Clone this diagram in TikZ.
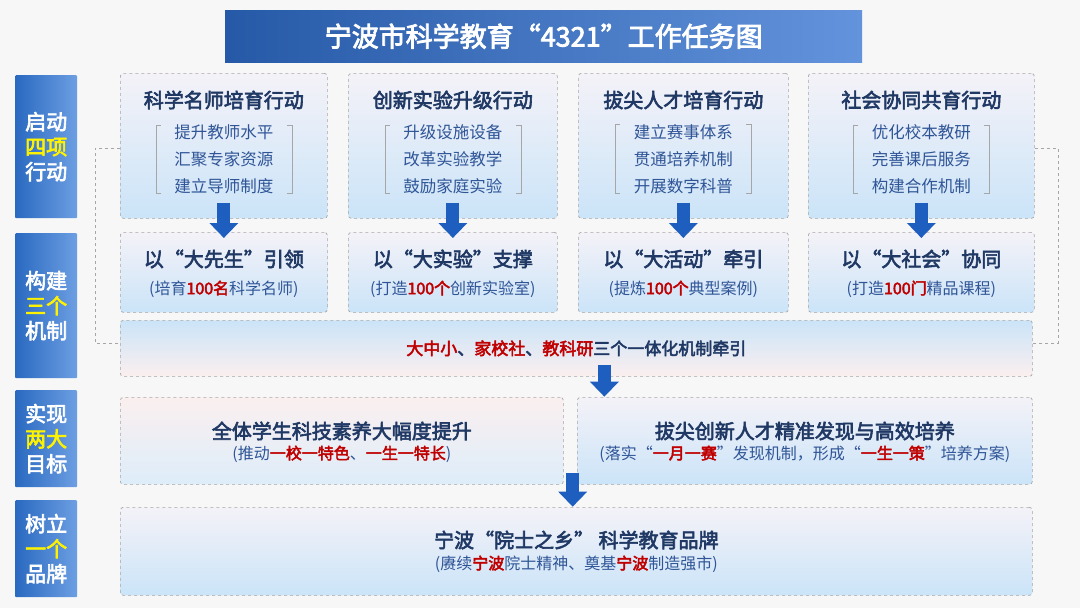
\documentclass[tikz,border=0pt]{standalone}
\usepackage{fontspec}
\setmainfont{Noto Sans CJK SC}
\newfontfamily\cjkb{Noto Sans CJK SC}[FakeBold=3]
\usetikzlibrary{arrows.meta,calc}
\definecolor{navy}{HTML}{1F3864}
\definecolor{subc}{HTML}{2F5597}
\definecolor{redc}{HTML}{C00000}
\definecolor{lblue}{HTML}{2E75D6}
\definecolor{tblue}{HTML}{2F6FD0}
\definecolor{bxa}{HTML}{F4F2F8}
\definecolor{bxb}{HTML}{CBE4F8}
\definecolor{pxa}{HTML}{FBEFEF}
\definecolor{pxb}{HTML}{DDEDFA}
\definecolor{arc}{HTML}{1E5EBF}
\tikzset{
 box/.style={draw=gray!70,dashed,line width=0.7pt,rounded corners=3pt,top color=bxa,bottom color=bxb,anchor=north west,inner sep=0pt},
 pbox/.style={box,top color=pxa,bottom color=pxb},
 lab/.style={rounded corners=1pt,anchor=north west,inner sep=0pt,left color=lblue!90!black,right color=lblue!70!white,text=white,align=center,font=\cjkb\fontsize{21}{25}\selectfont},
 bigarrow/.style={-{Triangle[width=28pt,length=15pt]},line width=13pt,color=arc},
 br/.style={draw=gray!70,line width=0.6pt},
 t1/.style={font=\cjkb\fontsize{20}{24}\selectfont,text=navy},
 t2/.style={font=\fontsize{16.5}{27}\selectfont,text=subc,align=center},
}
\newcommand{\R}[1]{\textcolor{redc}{\cjkb #1}}
\begin{document}
\begin{tikzpicture}[x=1pt,y=-1pt]
\useasboundingbox (0,0) rectangle (1080,608);
\fill[gray!6] (0,0) rectangle (1080,608);
% dashed brackets
\draw[dashed,gray!70,line width=0.7pt] (120,148) -- (95,148) -- (95,343) -- (120,343);
\draw[dashed,gray!70,line width=0.7pt] (1035,148) -- (1058,148) -- (1058,343) -- (1032,343);
% title
\node[anchor=north west,minimum width=637pt,minimum height=52pt,inner sep=0pt,left color=tblue!80!black,right color=tblue!75!white,text=white,font=\cjkb\fontsize{27}{30}\selectfont] (title) at (225,10) {宁波市科学教育“4321”工作任务图};
% left labels
\node[lab,minimum width=62pt,minimum height=143pt] (L1) at (15,75) {启动\\\textcolor{yellow}{四项}\\行动};
\node[lab,minimum width=62pt,minimum height=145pt] (L2) at (15,233) {构建\\\textcolor{yellow}{三个}\\机制};
\node[lab,minimum width=62pt,minimum height=97pt] (L3) at (15,390) {实现\\\textcolor{yellow}{两大}\\目标};
\node[lab,minimum width=62pt,minimum height=97pt] (L4) at (15,500) {树立\\\textcolor{yellow}{一个}\\品牌};
% action boxes
\foreach \n/\x/\w/\t/\a/\b/\c in {1/120/207/科学名师培育行动/提升教师水平/汇聚专家资源/建立导师制度,
 2/348/209/创新实验升级行动/升级设施设备/改革实验教学/鼓励家庭实验,
 3/578/210/拔尖人才培育行动/建立赛事体系/贯通培养机制/开展数字科普,
 4/808/226/社会协同共育行动/优化校本教研/完善课后服务/构建合作机制}{
 \node[box,minimum width=\w pt,minimum height=145pt] (A\n) at (\x,73) {};
 \node[t1] (AT\n) at ($(A\n.north)+(0,27)$) {\t};
 \node[t2] (AS\n) at ($(A\n.north)+(0,86)$) {\a\\\b\\\c};
 \draw[br] ($(AS\n.north west)+(-10,4)$) -- ++(-5,0) -- ($(AS\n.south west)+(-15,-4)$) -- ++(5,0);
 \draw[br] ($(AS\n.north east)+(10,4)$) -- ++(5,0) -- ($(AS\n.south east)+(15,-4)$) -- ++(-5,0);
}
% mechanism boxes
\node[box,minimum width=207pt,minimum height=80pt] (M1) at (120,232) {};
\node[box,minimum width=209pt,minimum height=80pt] (M2) at (348,232) {};
\node[box,minimum width=210pt,minimum height=80pt] (M3) at (578,232) {};
\node[box,minimum width=226pt,minimum height=80pt] (M4) at (808,232) {};
\foreach \n/\t/\s in {1/{以“大先生”引领}/{(培育\R{100名}科学名师)},
 2/{以“大实验”支撑}/{(打造\R{100个}创新实验室)},
 3/{以“大活动”牵引}/{(提炼\R{100个}典型案例)},
 4/{以“大社会”协同}/{(打造\R{100门}精品课程)}}{
 \node[t1] (MT\n) at ($(M\n.north)+(0,27)$) {\t};
 \node[font=\fontsize{16}{19}\selectfont,text=subc] (MS\n) at ($(M\n.north)+(0,57)$) {\s};
}
% integration
\node[pbox,minimum width=912pt,minimum height=56pt,font=\cjkb\fontsize{17}{20}\selectfont,text=navy,top color=bxb,bottom color=pxa] (I) at (120,320) {\R{大中小}、\R{家校社}、\R{教科研}三个一体化机制牵引};
% goals
\node[pbox,minimum width=443pt,minimum height=87pt] (G1) at (120,397) {};
\node[box,minimum width=455pt,minimum height=87pt] (G2) at (577,397) {};
\node[t1] (G1T) at ($(G1.north)+(0,34)$) {全体学生科技素养大幅度提升};
\node[font=\fontsize{16}{19}\selectfont,text=subc] (G1S) at ($(G1.north)+(0,57)$) {(推动\R{一校一特色}、\R{一生一特长})};
\node[t1] (G2T) at ($(G2.north)+(0,34)$) {拔尖创新人才精准发现与高效培养};
\node[font=\fontsize{16}{19}\selectfont,text=subc] (G2S) at ($(G2.north)+(0,57)$) {(落实“\R{一月一赛}”发现机制，形成“\R{一生一策}”培养方案)};
% brand
\node[box,minimum width=912pt,minimum height=88pt] (B) at (120,507) {};
\node[t1] (BT) at ($(B.north)+(0,33)$) {宁波“院士之乡” 科学教育品牌};
\node[font=\fontsize{16}{19}\selectfont,text=subc] (BS) at ($(B.north)+(0,57)$) {(赓续\R{宁波}院士精神、奠基\R{宁波}制造强市)};
% arrows
\foreach \n in {1,2,3,4}{\draw[bigarrow] ([yshift=16]A\n.south) -- ([yshift=-6]M\n.north);}
\coordinate (c1) at ($(I.south)+(28,-12)$);
\coordinate (c2) at ($(I.south)+(28,20)$);
\draw[bigarrow] (c1) -- (c2);
\coordinate (c3) at ($(G1.south east)+(9,-12)$);
\coordinate (c4) at ($(G1.south east)+(9,22)$);
\draw[bigarrow] (c3) -- (c4);
\end{tikzpicture}
\end{document}
